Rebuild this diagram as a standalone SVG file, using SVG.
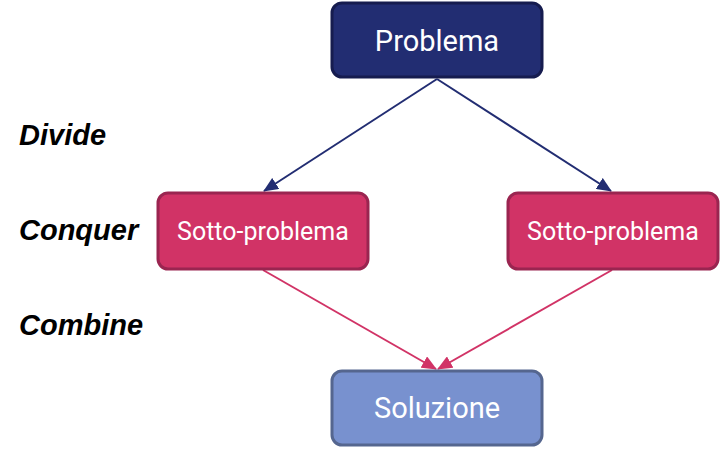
<svg xmlns="http://www.w3.org/2000/svg" width="720" height="449" viewBox="0 0 720 449">
<style>
.lbl{font-family:"Liberation Sans",Arial,sans-serif;font-weight:bold;font-style:italic;font-size:29px;fill:#000}
.t{font-family:Roboto,"Liberation Sans",sans-serif;fill:#fff;text-anchor:middle}
.blue{stroke:#222d72;stroke-width:2;fill:none}
.pink{stroke:#d13366;stroke-width:2;fill:none}
</style>
<defs>
<marker id="ab" markerUnits="userSpaceOnUse" markerWidth="15" markerHeight="13" refX="14" refY="6.5" orient="auto"><path d="M0,0 L15,6.5 L0,13 z" fill="#222d72"/></marker>
<marker id="ap" markerUnits="userSpaceOnUse" markerWidth="15" markerHeight="13" refX="14" refY="6.5" orient="auto"><path d="M0,0 L15,6.5 L0,13 z" fill="#d13366"/></marker>
</defs>
<rect width="720" height="449" fill="#fff"/>
<g id="connectors">
<line class="blue" x1="437" y1="79" x2="264" y2="191" marker-end="url(#ab)"/>
<line class="blue" x1="437" y1="79" x2="611" y2="191" marker-end="url(#ab)"/>
<line class="pink" x1="263" y1="270" x2="436" y2="369" marker-end="url(#ap)"/>
<line class="pink" x1="612" y1="270" x2="438" y2="369" marker-end="url(#ap)"/>
</g>
<g id="problema">
<rect x="332" y="3" width="210" height="74" rx="10" fill="#222d72" stroke="#161c4f" stroke-width="3"/>
<text class="t" x="437" y="51" font-size="29">Problema</text>
</g>
<g id="sotto1">
<rect x="158" y="193" width="210" height="76" rx="10" fill="#d13366" stroke="#9a2550" stroke-width="3"/>
<text class="t" x="263" y="240" font-size="25">Sotto-problema</text>
</g>
<g id="sotto2">
<rect x="508" y="193" width="210" height="76" rx="10" fill="#d13366" stroke="#9a2550" stroke-width="3"/>
<text class="t" x="613" y="240" font-size="25">Sotto-problema</text>
</g>
<g id="soluzione">
<rect x="332" y="371" width="210" height="74" rx="10" fill="#7891cf" stroke="#55668f" stroke-width="3"/>
<text class="t" x="437" y="418" font-size="29">Soluzione</text>
</g>
<g id="labels">
<text class="lbl" x="19" y="145">Divide</text>
<text class="lbl" x="19" y="240">Conquer</text>
<text class="lbl" x="19" y="335">Combine</text>
</g>
</svg>
